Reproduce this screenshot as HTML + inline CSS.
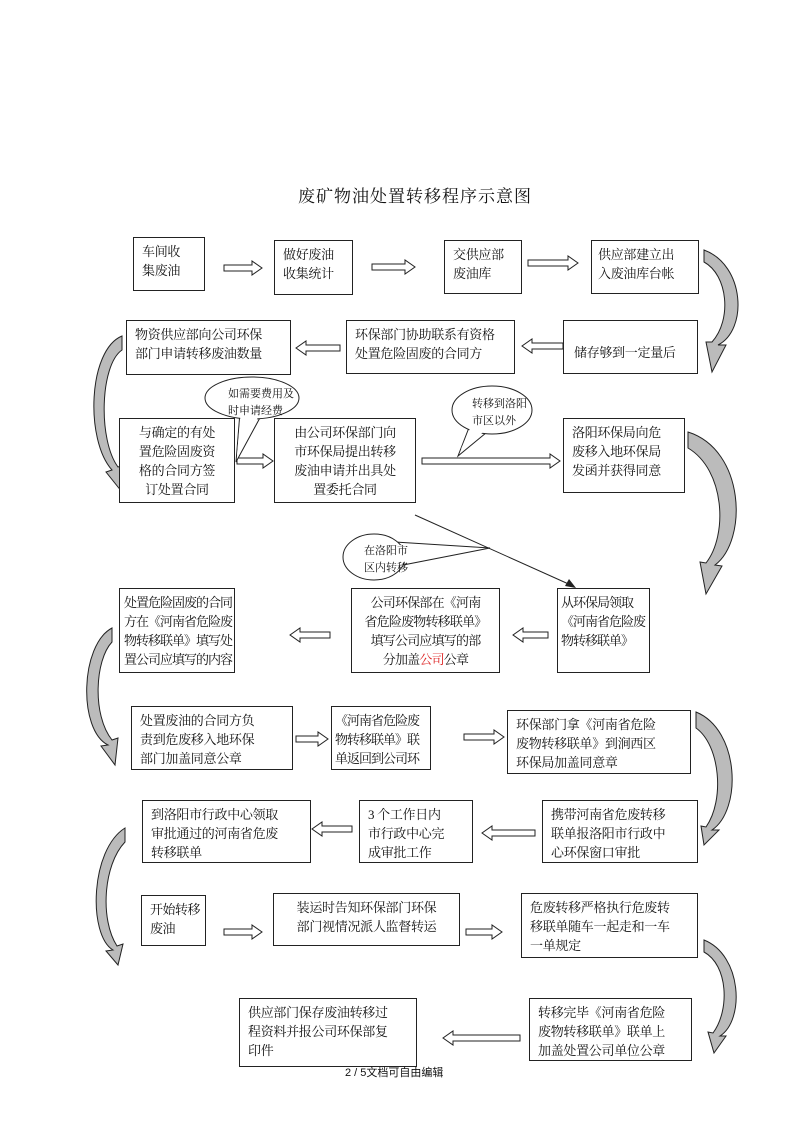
<!DOCTYPE html>
<html><head><meta charset="utf-8"><style>
body{margin:0;background:#fff;}
#c{position:relative;width:800px;height:1132px;overflow:hidden;font-family:"Liberation Serif","Noto Serif CJK SC","Noto Sans CJK SC",serif;color:#111;}
.b{position:absolute;border:1.3px solid #222;box-sizing:border-box;font-size:13px;line-height:19px;padding:4px 4px;background:#fff;white-space:nowrap;letter-spacing:-0.3px;}
.t{position:absolute;white-space:nowrap;}
svg{position:absolute;left:0;top:0;}
</style></head><body><div id="c">
<svg width="800" height="1132" viewBox="0 0 800 1132">
<g fill="#fff" stroke="#222" stroke-width="1">
<polygon points="224,265 252,265 252,261 262,268 252,275 252,271 224,271"/>
<polygon points="372,264 405,264 405,260 415,267 405,274 405,270 372,270"/>
<polygon points="528,260 568,260 568,256 578,263 568,270 568,266 528,266"/>
<polygon points="237,458 263,458 263,454 273,461 263,468 263,464 237,464"/>
<polygon points="422,458 550,458 550,454 560,461 550,468 550,464 422,464"/>
<polygon points="296,736 318,736 318,732 328,739 318,746 318,742 296,742"/>
<polygon points="464,734 494,734 494,730 504,737 494,744 494,740 464,740"/>
<polygon points="224,929 252,929 252,925 262,932 252,939 252,935 224,935"/>
<polygon points="466,929 492,929 492,925 502,932 492,939 492,935 466,935"/>
<polygon points="340,345 306,345 306,341 296,348 306,355 306,351 340,351"/>
<polygon points="563,343 532,343 532,339 522,346 532,353 532,349 563,349"/>
<polygon points="330,632 300,632 300,628 290,635 300,642 300,638 330,638"/>
<polygon points="548,632 523,632 523,628 513,635 523,642 523,638 548,638"/>
<polygon points="352,826 322,826 322,822 312,829 322,836 322,832 352,832"/>
<polygon points="535,830 492,830 492,826 482,833 492,840 492,836 535,836"/>
<polygon points="520,1035 453,1035 453,1031 443,1038 453,1045 453,1041 520,1041"/>
</g>
<g fill="#bbb" stroke="#222" stroke-width="1">
<path d="M704,250 C745,265 748,330 718,345 L726,345 L712,372 L706,342 L712,342 C732,320 728,275 704,262 Z"/>
<path d="M122,336 C88,350 85,440 112,470 L106,472 L122,492 L124,465 L118,467 C98,440 100,365 122,350 Z"/>
<path d="M688,432 C745,450 748,540 715,565 L722,566 L706,594 L700,562 L706,563 C728,535 725,470 688,448 Z"/>
<path d="M112,628 C80,645 78,730 108,745 L101,746 L115,765 L118,738 L112,740 C92,715 95,660 112,642 Z"/>
<path d="M696,712 C740,730 742,810 712,830 L719,830 L704,845 L701,826 L706,827 C725,800 720,745 696,728 Z"/>
<path d="M125,828 C90,850 88,935 113,950 L106,951 L118,965 L123,944 L117,946 C100,920 103,865 125,842 Z"/>
<path d="M704,940 C742,955 745,1020 720,1036 L726,1036 L714,1053 L708,1032 L713,1033 C730,1010 728,965 704,952 Z"/>
</g>
<!-- callouts -->
<g stroke="#222" stroke-width="1" fill="#fff">
<polygon points="240,412 236,462 262,414"/>
<ellipse cx="252" cy="398" rx="47" ry="21"/>
<polygon points="241,410 237,455 261,412" stroke="none"/>
<polygon points="470,425 458,456 492,428"/>
<ellipse cx="492" cy="410" rx="40" ry="24"/>
<polygon points="472,424 461,449 490,427" stroke="none"/>
<polygon points="395,542 490,548 398,566"/>
<ellipse cx="374" cy="557" rx="31" ry="23"/>
<polygon points="398,545 480,548 400,563" stroke="none"/>
</g>
<line x1="415" y1="515" x2="573" y2="586" stroke="#222" stroke-width="1"/>
<polygon points="576,588 565,586 569,579" fill="#222"/>
</svg>
<div class="t" style="left:0;width:830px;top:182px;text-align:center;font-size:17px;letter-spacing:1px;">废矿物油处置转移程序示意图</div>

<div class="b" style="left:133px;top:237px;width:72px;height:54px;padding-left:8px;">车间收<br>集废油</div>
<div class="b" style="left:274px;top:240px;width:79px;height:55px;padding-left:8px;">做好废油<br>收集统计</div>
<div class="b" style="left:444px;top:240px;width:78px;height:54px;padding-left:8px;">交供应部<br>废油库</div>
<div class="b" style="left:591px;top:240px;width:108px;height:54px;padding-left:6px;">供应部建立出<br>入废油库台帐</div>

<div class="b" style="left:126px;top:320px;width:165px;height:55px;padding-left:8px;">物资供应部向公司环保<br>部门申请转移废油数量</div>
<div class="b" style="left:346px;top:320px;width:169px;height:54px;padding-left:8px;">环保部门协助联系有资格<br>处置危险固废的合同方</div>
<div class="b" style="left:563px;top:320px;width:135px;height:54px;padding-top:22px;padding-left:10px;">储存够到一定量后</div>

<div class="b" style="left:119px;top:418px;width:116px;height:85px;text-align:center;">与确定的有处<br>置危险固废资<br>格的合同方签<br>订处置合同</div>
<div class="b" style="left:274px;top:418px;width:142px;height:85px;text-align:center;">由公司环保部门向<br>市环保局提出转移<br>废油申请并出具处<br>置委托合同</div>
<div class="b" style="left:563px;top:418px;width:122px;height:75px;padding-left:8px;">洛阳环保局向危<br>废移入地环保局<br>发函并获得同意</div>

<div class="t" style="left:228px;top:386px;font-size:11px;line-height:17px;">如需要费用及<br>时申请经费</div>
<div class="t" style="left:472px;top:396px;font-size:11px;line-height:17px;">转移到洛阳<br>市区以外</div>
<div class="t" style="left:364px;top:543px;font-size:11px;line-height:17px;">在洛阳市<br>区内转移</div>

<div class="b" style="left:119px;top:588px;width:116px;height:85px;letter-spacing:-1px;">处置危险固废的合同<br>方在《河南省危险废<br>物转移联单》填写处<br>置公司应填写的内容</div>
<div class="b" style="left:351px;top:588px;width:149px;height:85px;text-align:center;padding-left:0;padding-right:0;letter-spacing:-0.8px;">公司环保部在《河南<br>省危险废物转移联单》<br>填写公司应填写的部<br>分加盖<span style="color:#d22">公司</span>公章</div>
<div class="b" style="left:557px;top:588px;width:93px;height:85px;padding-left:3px;letter-spacing:-1px;">从环保局领取<br>《河南省危险废<br>物转移联单》</div>

<div class="b" style="left:131px;top:706px;width:162px;height:64px;padding-left:8px;">处置废油的合同方负<br>责到危废移入地环保<br>部门加盖同意公章</div>
<div class="b" style="left:331px;top:706px;width:100px;height:64px;letter-spacing:-1px;padding-left:3px;">《河南省危险废<br>物转移联单》联<br>单返回到公司环</div>
<div class="b" style="left:507px;top:710px;width:184px;height:64px;padding-left:8px;">环保部门拿《河南省危险<br>废物转移联单》到涧西区<br>环保局加盖同意章</div>

<div class="b" style="left:142px;top:800px;width:169px;height:63px;padding-left:8px;">到洛阳市行政中心领取<br>审批通过的河南省危废<br>转移联单</div>
<div class="b" style="left:359px;top:800px;width:114px;height:63px;padding-left:8px;">3 个工作日内<br>市行政中心完<br>成审批工作</div>
<div class="b" style="left:542px;top:800px;width:156px;height:63px;padding-left:8px;">携带河南省危废转移<br>联单报洛阳市行政中<br>心环保窗口审批</div>

<div class="b" style="left:141px;top:895px;width:65px;height:51px;padding-left:8px;letter-spacing:-0.5px;">开始转移<br>废油</div>
<div class="b" style="left:273px;top:893px;width:187px;height:53px;text-align:center;">装运时告知环保部门环保<br>部门视情况派人监督转运</div>
<div class="b" style="left:521px;top:893px;width:177px;height:65px;padding-left:8px;">危废转移严格执行危废转<br>移联单随车一起走和一车<br>一单规定</div>

<div class="b" style="left:239px;top:998px;width:178px;height:69px;padding-left:8px;">供应部门保存废油转移过<br>程资料并报公司环保部复<br>印件</div>
<div class="b" style="left:529px;top:998px;width:163px;height:63px;padding-left:8px;">转移完毕《河南省危险<br>废物转移联单》联单上<br>加盖处置公司单位公章</div>

<div class="t" style="left:345px;top:1064px;font-size:11px;font-family:'Liberation Sans','Noto Sans CJK SC',sans-serif;">2 / 5文档可自由编辑</div>
</div></body></html>
